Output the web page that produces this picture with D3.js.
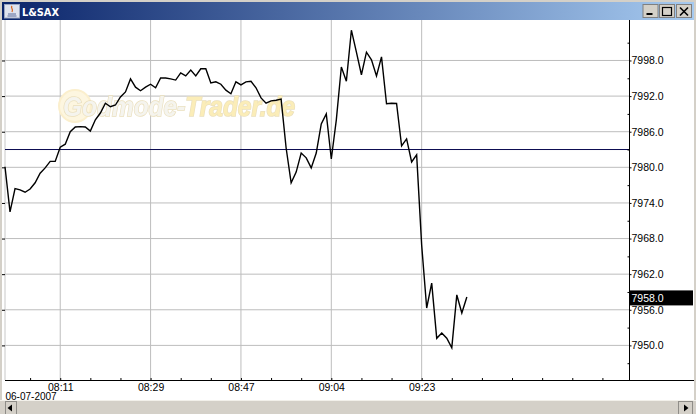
<!DOCTYPE html>
<html><head><meta charset="utf-8">
<script src="https://cdn.jsdelivr.net/npm/d3@7"></script>
<style>html,body{margin:0;padding:0;background:#fff;overflow:hidden}svg{display:block}</style>
</head><body><div id="c"></div>
<script>
const title = "L&SAX";
const dateLabel = "06-07-2007";
const prices = [7980.1,7972.5,7976.4,7976.2,7975.8,7976.35,7977.4,7979.0,7979.9,7981.0,7981.0,7983.4,7983.9,7986.0,7986.8,7986.85,7986.8,7986.1,7988.0,7989.15,7990.8,7990.2,7990.5,7991.85,7992.7,7994.9,7993.5,7992.9,7993.5,7994.0,7993.4,7995.05,7995.05,7994.9,7994.7,7995.9,7995.4,7996.4,7995.4,7996.6,7996.6,7994.2,7994.4,7994.0,7993.0,7992.4,7994.4,7993.9,7994.4,7994.5,7993.4,7991.7,7990.8,7991.2,7991.3,7991.5,7983.25,7977.4,7979.2,7982.4,7981.6,7979.9,7982.4,7987.3,7989.0,7981.4,7988.0,7996.9,7994.5,8003.1,7999.4,7995.6,7999.4,7998.1,7995.4,7998.6,7990.7,7990.8,7990.75,7983.6,7984.8,7980.9,7982.1,7966.9,7956.3,7960.5,7951.2,7952.1,7951.2,7949.6,7958.5,7955.45,7958.15];
const timeIdx = [11,29,47,65,83];
const timeLabels = ["08:11","08:29","08:47","09:04","09:23"];
const minorTimeIdx = [5,17,23,35,41,53,59,71,77,89,95,101,107,113,119];
const priceTicks = [7998,7992,7986,7980,7974,7968,7962,7956,7950];
const minorPriceTicks = [8001,7995,7989,7983,7977,7971,7965,7959,7953,7947];
const refLevel = 7983;
const lastLabel = 7958;

const W=696,H=414;
const svg=d3.select("#c").append("svg").attr("width",W).attr("height",H);
const font="'Liberation Sans',Arial,sans-serif";
const plot={l:5,r:629.5,t:20,b:380};
const x=d3.scaleLinear().domain([0,124.4]).range([plot.l,plot.r]);
const y=d3.scaleLinear().domain([7944.17,8004.82]).range([plot.b,plot.t]);

const defs=svg.append("defs");
const g=defs.append("linearGradient").attr("id","tb");
g.append("stop").attr("offset",0).attr("stop-color","#0a246a");
g.append("stop").attr("offset",1).attr("stop-color","#a6caf0");
defs.append("filter").attr("id","blur").append("feGaussianBlur").attr("stdDeviation",0.6);

// window chrome
svg.append("rect").attr("width",W).attr("height",H).attr("fill","#d4d0c8");
svg.append("rect").attr("x",2).attr("y",20).attr("width",692).attr("height",380).attr("fill","#fff");
svg.append("rect").attr("x",2).attr("y",2).attr("width",692).attr("height",18).attr("fill","url(#tb)");
svg.append("text").text(title).attr("x",22).attr("y",15.5).attr("fill","#fff")
  .attr("font-family","'DejaVu Sans',sans-serif").attr("font-weight","bold").attr("font-size",11)
  .attr("textLength",37).attr("lengthAdjust","spacingAndGlyphs");
// java icon
const ic=svg.append("g");
ic.append("rect").attr("x",4.5).attr("y",4.5).attr("width",15).attr("height",13.5).attr("fill","#dfe3ee").attr("stroke","#9aa5c0");
ic.append("path").attr("d","M8 14h8M7.5 16h9").attr("stroke","#5a6a9a").attr("fill","none");
ic.append("path").attr("d","M12 6c-2 2 2 3 0 6").attr("stroke","#d8641e").attr("stroke-width",1.3).attr("fill","none");
// window buttons
[[642.5,"min"],[659,"max"],[676,"x"]].forEach(([bx,k])=>{
  svg.append("rect").attr("x",bx+.5).attr("y",4.5).attr("width",15).attr("height",13).attr("fill","#d4d0c8").attr("stroke","#808080");
  if(k==="min")svg.append("rect").attr("x",bx+4).attr("y",13).attr("width",6).attr("height",2).attr("fill","#000");
  if(k==="max")svg.append("rect").attr("x",bx+3.5).attr("y",7.5).attr("width",9).attr("height",8).attr("fill","none").attr("stroke","#000").attr("stroke-width",1.2);
  if(k==="x")svg.append("path").attr("d",`M${bx+4} 7.5l8 8M${bx+12} 7.5l-8 8`).attr("stroke","#000").attr("stroke-width",1.6);
});
// scrollbar
svg.append("rect").attr("x",0).attr("y",400).attr("width",W).attr("height",14).attr("fill","#d4d0c8");
svg.append("line").attr("x1",0).attr("x2",W).attr("y1",400.5).attr("y2",400.5).attr("stroke","#f2f0ea");
[[5,"M12 404.5v7l-4.5-3.5z"],[678,"M684 404.5v7l4.5-3.5z"]].forEach(([bx,d])=>{
  svg.append("rect").attr("x",bx+.5).attr("y",401.5).attr("width",bx<100?11:14).attr("height",13).attr("fill","#d4d0c8").attr("stroke","#8f8d88");
  svg.append("path").attr("d",d).attr("fill","#000");
});

// grid
const grid=svg.append("g").attr("stroke","#bdbdbd").attr("stroke-width",1);
priceTicks.forEach(v=>grid.append("line").attr("x1",plot.l).attr("x2",plot.r).attr("y1",y(v)).attr("y2",y(v)));
timeIdx.forEach(i=>grid.append("line").attr("x1",x(i)).attr("x2",x(i)).attr("y1",plot.t).attr("y2",plot.b));
svg.append("line").attr("x1",plot.l).attr("x2",plot.l).attr("y1",plot.t).attr("y2",plot.b).attr("stroke","#c8c8c8");

// watermark
const wm=svg.append("g").attr("filter","url(#blur)");
wm.append("circle").attr("cx",75).attr("cy",106).attr("r",16).attr("fill","#fdf6e0").attr("stroke","#fbefcd").attr("stroke-width",2);
const wt=wm.append("text").attr("x",63).attr("y",116).attr("font-family","'Liberation Sans',sans-serif").attr("font-style","italic").attr("font-weight","bold")
  .attr("font-size",27).attr("textLength",232).attr("lengthAdjust","spacingAndGlyphs").attr("paint-order","stroke").attr("stroke","#eadfbd").attr("stroke-width",1.5);
wt.append("tspan").text("Godmode-").attr("fill","#f5f4ee");
wt.append("tspan").text("Trader.de").attr("fill","#fbedb8");

// reference line
svg.append("line").attr("x1",plot.l).attr("x2",plot.r).attr("y1",y(refLevel)).attr("y2",y(refLevel)).attr("stroke","#0a0a50").attr("stroke-width",1);

// price line
svg.append("path").datum(prices).attr("fill","none").attr("stroke","#000").attr("stroke-width",1.4).attr("stroke-linejoin","miter")
  .attr("d",d3.line().x((d,i)=>x(i)).y(d=>y(d)));

// right axis
const yAx=svg.append("g").attr("transform",`translate(${plot.r},0)`)
  .call(d3.axisRight(y).tickValues(priceTicks).tickFormat(d3.format(".1f")).tickSize(2).tickPadding(0));
yAx.select(".domain").remove();
yAx.selectAll("text").attr("font-family",font).attr("font-size",10.5).attr("fill","#000");
const yM=svg.append("g").attr("transform",`translate(${plot.r},0)`).call(d3.axisLeft(y).tickValues(minorPriceTicks).tickFormat("").tickSize(2));
yM.select(".domain").remove();
svg.append("line").attr("x1",plot.r).attr("x2",plot.r).attr("y1",plot.t).attr("y2",plot.b).attr("stroke","#000");
// left ticks
const yL=svg.append("g").attr("transform",`translate(${plot.l},0)`).call(d3.axisLeft(y).tickValues(priceTicks).tickFormat("").tickSize(3));
yL.select(".domain").remove();

// bottom axis
const xAx=svg.append("g").attr("transform",`translate(0,${plot.b})`)
  .call(d3.axisBottom(x).tickValues(timeIdx).tickFormat((d,i)=>timeLabels[i]).tickSize(0).tickPadding(4));
xAx.select(".domain").remove();
xAx.selectAll("text").attr("font-family",font).attr("font-size",10.5).attr("fill","#000");
const xT=svg.append("g").attr("transform",`translate(0,${plot.b})`)
  .call(d3.axisTop(x).tickValues(timeIdx.concat(minorTimeIdx)).tickFormat("").tickSize(2));
xT.select(".domain").remove();
svg.append("line").attr("x1",plot.l).attr("x2",W-2).attr("y1",plot.b+.5).attr("y2",plot.b+.5).attr("stroke","#000");
svg.append("text").text(dateLabel).attr("x",5.5).attr("y",400).attr("font-family",font).attr("font-size",10).attr("fill","#000");

// last price badge
const by=y(lastLabel);
svg.append("rect").attr("x",plot.r+.5).attr("y",by-7.5).attr("width",63).attr("height",15).attr("fill","#000");
svg.append("text").text(d3.format(".1f")(lastLabel)).attr("x",plot.r+2).attr("y",by+4).attr("font-family",font).attr("font-size",10.5).attr("fill","#fff");
</script></body></html>
